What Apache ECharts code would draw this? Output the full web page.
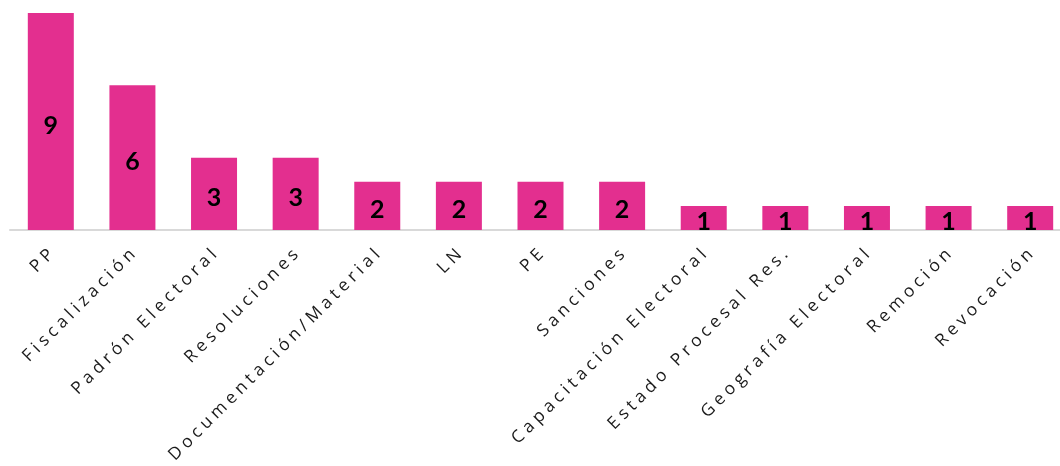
<!DOCTYPE html>
<html>
<head>
<meta charset="utf-8">
<script src="https://cdn.jsdelivr.net/npm/echarts@6/dist/echarts.min.js"></script>
<style>html,body{margin:0;padding:0;background:#fff;overflow:hidden}#c{width:1071px;height:466px}</style>
</head>
<body>
<div id="c"></div>
<script>
const categories = ["PP","Fiscalización","Padrón Electoral","Resoluciones","Documentación/Material","LN","PE","Sanciones","Capacitación Electoral","Estado Procesal Res.","Geografía Electoral","Remoción","Revocación"];
const values = [9,6,3,3,2,2,2,2,1,1,1,1,1];

const chart = echarts.init(document.getElementById('c'), null, {renderer:'canvas'});
chart.setOption({
  animation:false,
  grid:{left:10, right:0, top:13, bottom:235, containLabel:false},
  xAxis:{
    type:'category', data:categories,
    axisLine:{lineStyle:{color:'#d9d9d9', width:2}},
    axisTick:{show:false},
    axisLabel:{
      interval:0, rotate:45, margin:22,
      fontFamily:'Open Sans', fontSize:17.3, color:'#1a1a1a',
      formatter: v => v.split('').join('\u2005')
    }
  },
  yAxis:{type:'value', min:0, max:9, show:false, splitLine:{show:false}},
  series:[{
    type:'bar', data:values, barWidth:46,
    itemStyle:{color:'#e32f8f'},
    label:{show:true, position:'inside', offset:[0,4], color:'#000', fontWeight:'bold', fontFamily:'Lato', fontSize:25}
  }]
});
</script>
</body>
</html>
